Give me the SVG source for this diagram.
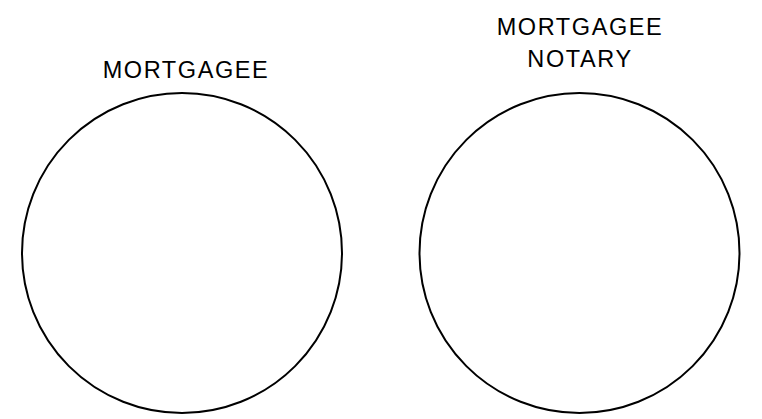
<svg xmlns="http://www.w3.org/2000/svg" width="762" height="419" viewBox="0 0 762 419">
  <style>
    .ring { fill: none; stroke: #000; stroke-width: 2; }
    .label { font-family: "Liberation Sans", Arial, sans-serif; font-size: 23.5px; fill: #000; text-anchor: middle; letter-spacing: 1.6px; }
  </style>
  <rect width="762" height="419" fill="#fff"/>
  <g id="mortgagee">
    <circle class="ring" cx="182" cy="253" r="160"/>
    <text class="label" x="186" y="78">MORTGAGEE</text>
  </g>
  <g id="mortgagee-notary">
    <circle class="ring" cx="579.5" cy="253" r="160"/>
    <text class="label" x="580" y="35">MORTGAGEE</text>
    <text class="label" x="580" y="66.5">NOTARY</text>
  </g>
  <g id="connectors"/>
</svg>
